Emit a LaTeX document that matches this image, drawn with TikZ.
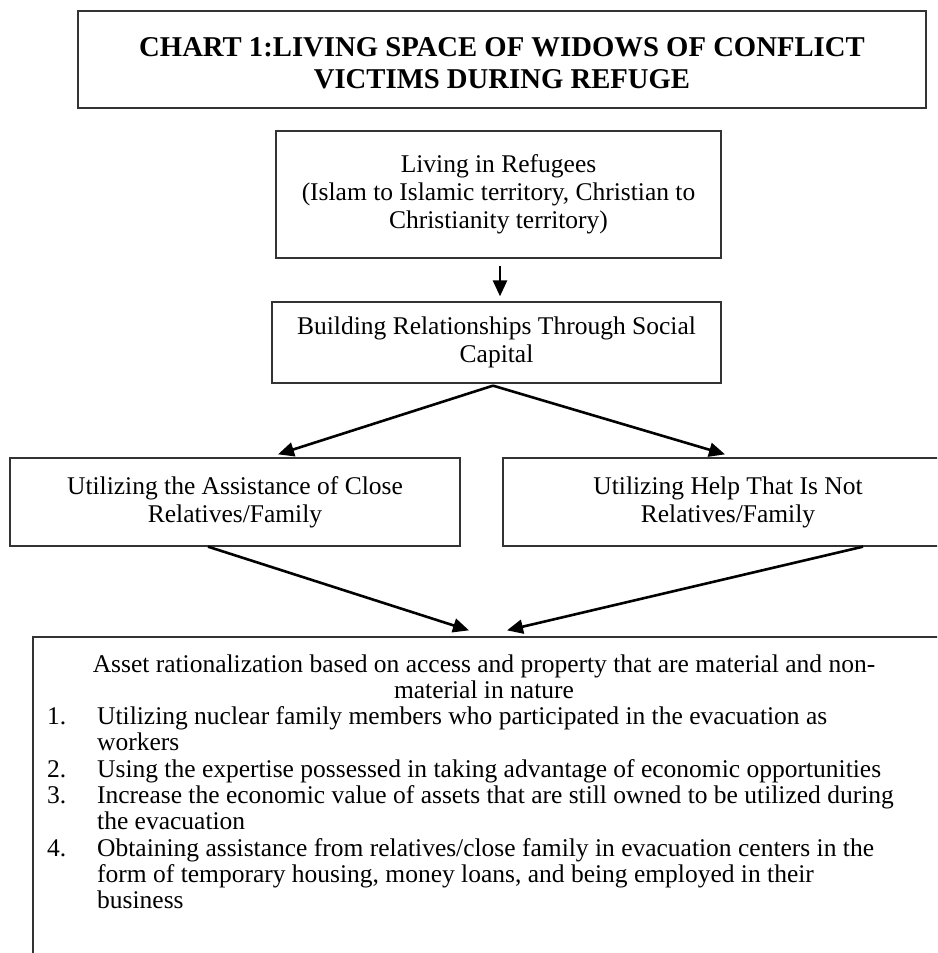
\documentclass[tikz,border=0pt]{standalone}
\usepackage{fontspec}
\setmainfont{Liberation Serif}
\usetikzlibrary{arrows.meta}

\begin{document}
\begin{tikzpicture}[x=1pt,y=-1pt,
    box/.style={draw=black!80, line width=1.3pt, align=center, inner sep=0pt,
                font=\fontsize{25.5}{28}\selectfont},
    txt/.style={inner sep=0pt, font=\fontsize{25.5}{26.3}\selectfont},
    arr/.style={-{Triangle[length=16pt,width=14pt]}, line width=2.6pt}]
  \useasboundingbox (0,0) rectangle (937,953);
  \clip (0,0) rectangle (937,953);

  % boxes
  \node[box, minimum width=848, minimum height=97] (title) at (502,59.5) {};
  \node[align=center, inner sep=0pt, font=\fontsize{28.7}{32}\selectfont\bfseries]
    (title-text) at ([yshift=-4pt]title.center)
    {CHART 1:LIVING SPACE OF WIDOWS OF CONFLICT\\VICTIMS DURING REFUGE};
  \node[box, minimum width=445, minimum height=127] (live) at (498.5,194.5)
    {Living in Refugees\\(Islam to Islamic territory, Christian to\\Christianity territory)};
  \node[box, minimum width=449, minimum height=81] (build) at (496.5,342.5)
    {Building Relationships Through Social\\Capital};
  \node[box, minimum width=450, minimum height=88] (close) at (235,502)
    {Utilizing the Assistance of Close\\Relatives/Family};
  \node[box, minimum width=450, minimum height=88] (other) at (728,502)
    {Utilizing Help That Is Not\\Relatives/Family};
  \node[box, minimum width=927, minimum height=363] (asset) at (496.5,818.5) {};

  % text of the last box
  \node[txt, anchor=base] (asset-head) at (484,672)
    {\begin{tabular}[t]{@{}c@{}}
      Asset rationalization based on access and property that are material and non-\\
      material in nature
    \end{tabular}};
  \node[txt, anchor=base west] (asset-list) at (47,724.6)
    {\begin{tabular}[t]{@{}p{50pt}@{}l@{}}
      1. & Utilizing nuclear family members who participated in the evacuation as\\
         & workers\\
      2. & Using the expertise possessed in taking advantage of economic opportunities\\
      3. & Increase the economic value of assets that are still owned to be utilized during\\
         & the evacuation\\
      4. & Obtaining assistance from relatives/close family in evacuation centers in the\\
         & form of temporary housing, money loans, and being employed in their\\
         & business
    \end{tabular}};

  % arrows
  \draw[arr] ([xshift=1.5pt,yshift=-7pt]live.south) -- ([xshift=3.5pt,yshift=5pt]build.north);
  \draw[arr] ([xshift=-3.5pt,yshift=-2pt]build.south) -- ([xshift=43pt,yshift=3pt]close.north);
  \draw[arr] ([xshift=-3.5pt,yshift=-2pt]build.south) -- ([xshift=-3pt,yshift=3pt]other.north);
  \draw[arr] ([xshift=-27pt]close.south) -- ([xshift=-27.5pt,yshift=6pt]asset.north);
  \draw[arr] ([xshift=135pt]other.south) -- ([xshift=10.5pt,yshift=6pt]asset.north);
\end{tikzpicture}
\end{document}
